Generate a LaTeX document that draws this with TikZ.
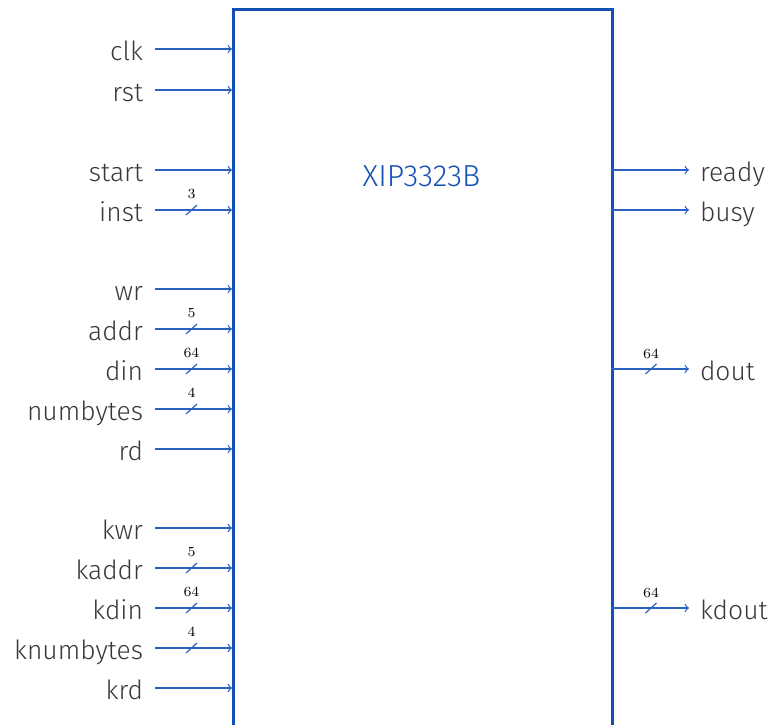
\documentclass[tikz,border=0pt]{standalone}
\usepackage[no-math]{fontspec}
\setmainfont{Fira Sans}[UprightFont=* Light]

\definecolor{xipblue}{HTML}{1450B4}
\definecolor{sigblue}{HTML}{2A62C2}
\definecolor{lbltext}{HTML}{383838}

\tikzset{
	core/.style={draw=xipblue, line width=1.35pt, minimum width=189.5pt, minimum height=400pt, inner sep=0pt},
	title/.style={text=xipblue, font=\fontsize{15.2}{18}\selectfont},
	lbl/.style={text=lbltext, font=\fontsize{13.2}{16}\selectfont, text height=11pt, text depth=0pt, inner ysep=0pt},
	inlbl/.style={lbl, anchor=east, inner xsep=6pt, outer sep=0pt},
	outlbl/.style={lbl, anchor=west, inner xsep=5.5pt, outer sep=0pt},
	sig/.style={draw=sigblue, line width=0.6pt, ->},
	slash/.style={draw=sigblue, line width=0.6pt},
	bwlbl/.style={font=\fontsize{7.5}{9}\selectfont, inner sep=0pt}
}

\begin{document}
\begin{tikzpicture}[x=0.5pt,y=-0.5pt]
	\useasboundingbox (0,0) rectangle (771,724);
%
	\node[core, anchor=north west] (xip) at (232,8) {};
	\node[title] (xipname) at (421.5,176) {XIP3323B};
%
	% inputs
	\foreach \sname/\ypos/\bw in {clk/49/0, rst/90/0, start/170/0, inst/210/3, wr/289/0, addr/329/5, din/369/64, numbytes/409/4, rd/449/0, kwr/528/0, kaddr/568/5, kdin/608/64, knumbytes/648/4, krd/688/0}
	{
		\node[inlbl] (\sname) at (155,\ypos) {\sname};
		\coordinate (\sname-in) at (232,\ypos);
		\draw[sig] (\sname) -- (\sname-in);
		\ifnum\bw>0
			\coordinate (\sname-bw) at (191.5,\ypos);
			\draw[slash] ([shift={(-5.5,5)}]\sname-bw) -- ([shift={(5.5,-5)}]\sname-bw);
			\node[bwlbl] (\sname-bwn) at (191.5,\ypos-16) {$\bw$};
		\fi
	}
%
	% outputs
	\foreach \sname/\ypos/\bw in {ready/170/0, busy/210/0, dout/369/64, kdout/608/64}
	{
		\coordinate (\sname-out) at (611,\ypos);
		\node[outlbl] (\sname) at (689,\ypos) {\sname};
		\draw[sig] (\sname-out) -- (\sname);
		\ifnum\bw>0
			\coordinate (\sname-bw) at (651,\ypos);
			\draw[slash] ([shift={(-5.5,5)}]\sname-bw) -- ([shift={(5.5,-5)}]\sname-bw);
			\node[bwlbl] (\sname-bwn) at (651,\ypos-15) {$\bw$};
		\fi
	}
\end{tikzpicture}
\end{document}
